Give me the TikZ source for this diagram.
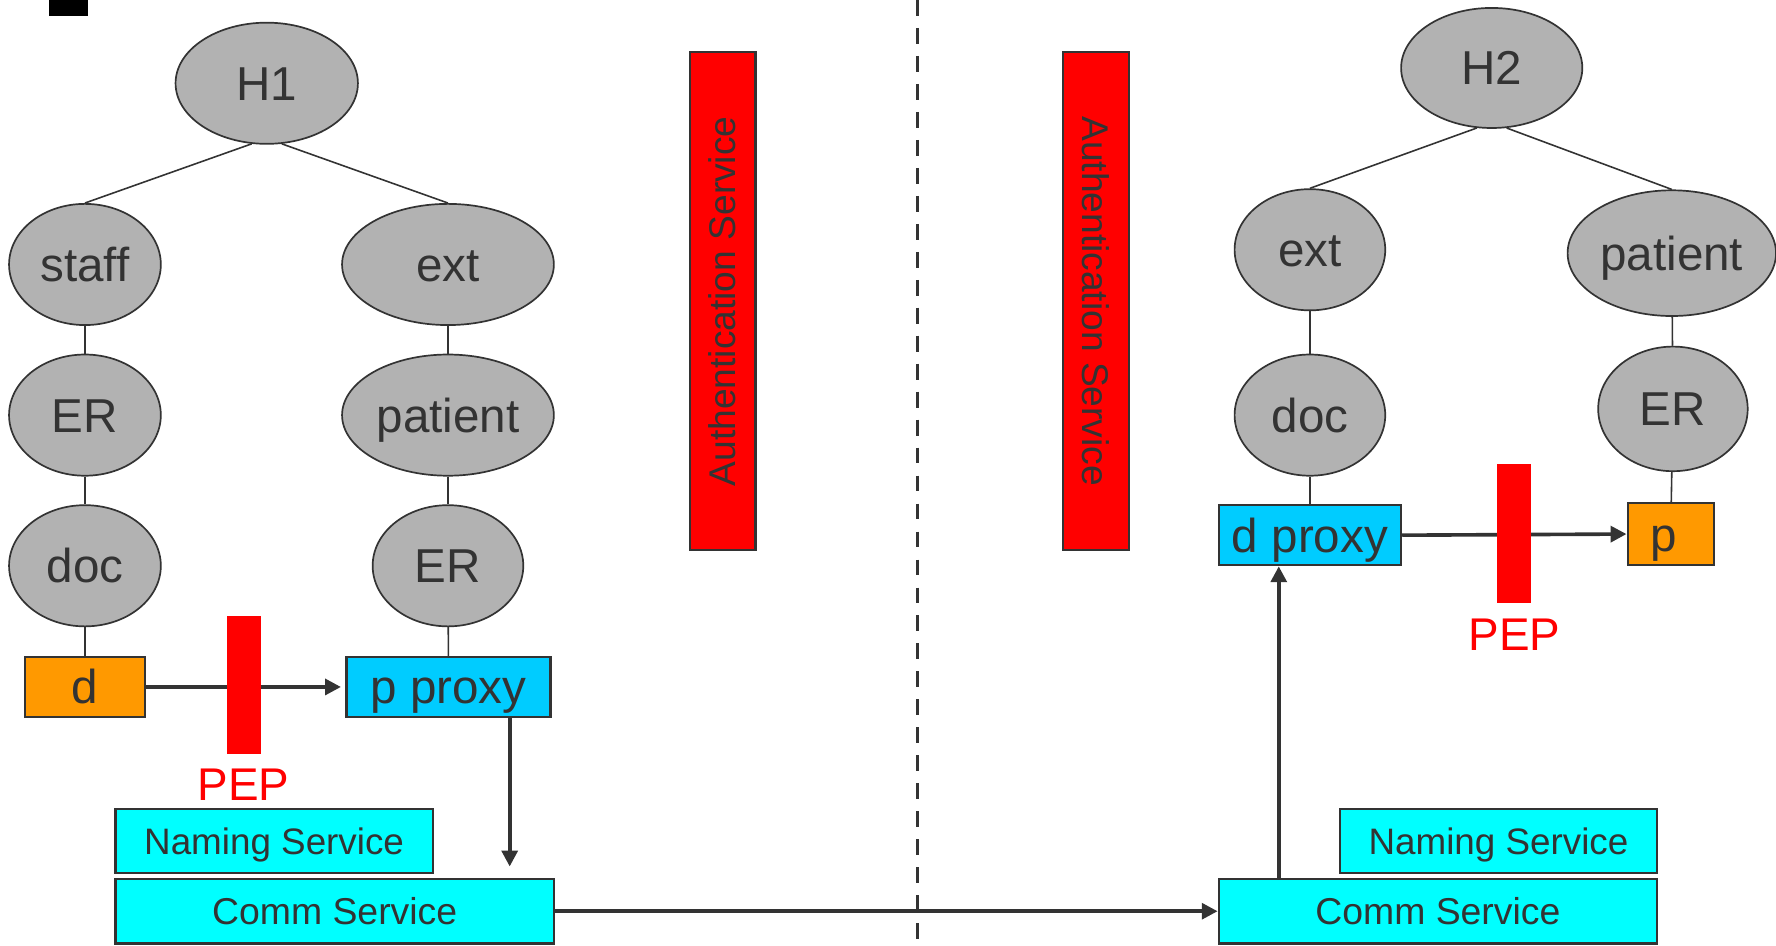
\documentclass[tikz,border=0pt]{standalone}
\usepackage{fontspec}
\setmainfont{Liberation Sans}
\usetikzlibrary{shapes.geometric,arrows.meta,calc}
\definecolor{ink}{HTML}{333333}
\definecolor{rolegray}{HTML}{B2B2B2}
\definecolor{orangebox}{HTML}{FF9900}
\definecolor{proxyblue}{HTML}{00CCFF}
\definecolor{svccyan}{HTML}{00FFFF}
\definecolor{pepred}{HTML}{FF0000}

\begin{document}
\begin{tikzpicture}[x=1pt,y=-1pt,
  role/.style={ellipse, draw=ink, fill=rolegray, line width=1.5pt, inner sep=0pt,
    text=ink, font=\fontsize{42}{48}\selectfont, text height=30pt, text depth=0pt},
  obj/.style={rectangle, draw=ink, line width=2pt, inner sep=0pt, text=ink,
    font=\fontsize{42}{48}\selectfont, text height=30pt, text depth=0pt, minimum height=53pt},
  svc/.style={rectangle, draw=ink, fill=svccyan, line width=2pt, inner sep=0pt,
    text=ink, minimum height=57pt},
  naming/.style={svc, font=\fontsize{32.5}{38}\selectfont, text height=23.3pt, text depth=0pt, minimum width=280pt},
  comm/.style={svc, font=\fontsize{33}{38}\selectfont, text height=23.6pt, text depth=0pt, minimum width=387pt},
  auth/.style={rectangle, draw=ink, fill=pepred, line width=1.8pt, inner sep=0pt, text=ink,
    font=\fontsize{32.8}{38}\selectfont, text height=23.5pt, text depth=0pt,
    minimum width=440pt, minimum height=58pt},
  pepbar/.style={rectangle, fill=pepred, inner sep=0pt, minimum width=30pt, minimum height=122pt},
  peplabel/.style={text=pepred, font=\fontsize{40.5}{46}\selectfont, inner sep=0pt,
    text height=29pt, text depth=0pt},
  link/.style={draw=ink, line width=1.4pt},
  flow/.style={draw=ink, line width=3.2pt, -{Triangle[length=14pt,width=14pt]}},
]
\useasboundingbox (0,0) rectangle (1568,835);

% corner marker
\fill[black] (43,0) rectangle (78,14);

% ---------- host H1 ----------
\node[role, minimum width=161pt, minimum height=107pt] (H1) at (235.5,73.5) {H1};
\node[role, minimum width=134pt, minimum height=107pt] (staffL) at (75,233.5) {staff};
\node[role, minimum width=187pt, minimum height=107pt] (extL) at (395.5,233.5) {ext};
\node[role, minimum width=134pt, minimum height=107pt] (erL) at (75,366.5) {ER};
\node[role, minimum width=187pt, minimum height=107pt] (patientL) at (395.5,366.5) {patient};
\node[role, minimum width=134pt, minimum height=107pt] (docL) at (75,499.5) {doc};
\node[role, minimum width=133pt, minimum height=107pt] (erL2) at (395.5,499.5) {ER};
\node[obj, fill=orangebox, minimum width=106pt] (dL) at (75,606.5) {d};
\node[obj, fill=proxyblue, minimum width=180pt] (pproxy) at (396,606.5) {p proxy};

\draw[link] (H1.256) -- (staffL.north);
\draw[link] (H1.284) -- (extL.north);
\draw[link] (staffL) -- (erL);
\draw[link] (erL) -- (docL);
\draw[link] (docL) -- (dL);
\draw[link] (extL) -- (patientL);
\draw[link] (patientL) -- (erL2);
\draw[link] (erL2) -- (pproxy);

% ---------- host H2 ----------
\node[role, minimum width=160pt, minimum height=106pt] (H2) at (1317,60) {H2};
\node[role, minimum width=133pt, minimum height=107pt] (extR) at (1156.5,220.5) {ext};
\node[role, minimum width=184pt, minimum height=111pt] (patientR) at (1476,223.5) {patient};
\node[role, minimum width=133pt, minimum height=107pt] (docR) at (1156.5,366.5) {doc};
\node[role, minimum width=132pt, minimum height=110pt] (erR) at (1477,361) {ER};
\node[obj, fill=proxyblue, minimum width=161pt] (dproxy) at (1156.5,472.5) {d proxy};
\node[obj, fill=orangebox, minimum width=76pt, minimum height=55pt] (pR) at (1475,471.5) {\hspace*{-12pt}p};

\draw[link] (H2.256) -- (extR.north);
\draw[link] (H2.284) -- (patientR.north);
\draw[link] (extR) -- (docR);
\draw[link] (docR) -- (dproxy);
\draw[link] (patientR) -- (erR);
\draw[link] (erR) -- (pR);

% ---------- services ----------
\node[naming] (namingL) at (242,742.5) {Naming Service};
\node[comm] (commL) at (295.5,804.5) {Comm Service};
\node[naming] (namingR) at (1323,742.5) {Naming Service};
\node[comm] (commR) at (1269.5,804.5) {Comm Service};

\node[auth, rotate=90] (authL) at (638,266) {Authentication Service};
\node[auth, rotate=-90] (authR) at (967.5,266) {Authentication Service};

% domain divider
\coordinate (divTop) at (810,0);
\coordinate (divBot) at (810,835);
\draw[ink, line width=3.2pt, dash pattern=on 14pt off 10.7pt] (divTop) -- (divBot);

% ---------- message flow ----------
\coordinate (dropTop) at ($(pproxy.south east)+(-37,0)$);
\coordinate (dropEnd) at (dropTop |- commL.north);
\coordinate (riseBot) at ($(commR.north west)+(54,0)$);
\coordinate (riseTop) at (riseBot |- dproxy.south);

\draw[flow, shorten >=4pt] (dL.east) -- (pproxy.west);
\draw[flow, shorten >=10pt] (dropTop) -- (dropEnd);
\draw[flow] (commL.east) -- (commR.west);
\draw[flow] (riseBot) -- (riseTop);
\draw[flow] (dproxy.east) -- (pR.west);

% policy enforcement points
\node[pepbar] (pepL) at (215,605) {};
\node[peplabel] (pepLtext) at (215,692) {PEP};
\node[pepbar] (pepR) at (1337,471) {};
\node[peplabel] (pepRtext) at (1337,560) {PEP};

\end{tikzpicture}
\end{document}
